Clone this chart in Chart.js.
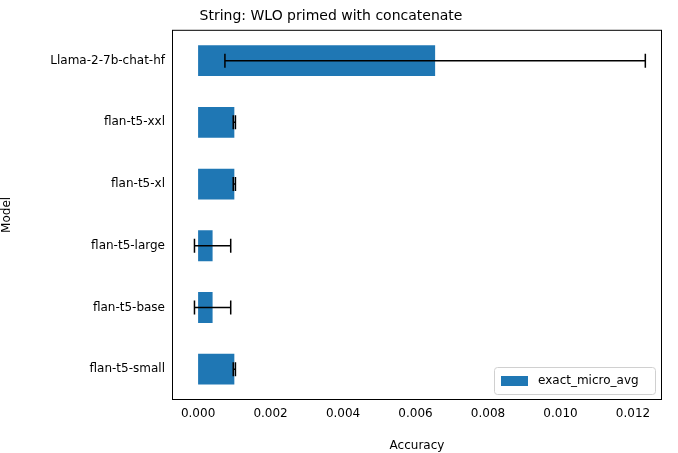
<!DOCTYPE html>
<html>
<head>
<meta charset="UTF-8">
<title>String: WLO primed with concatenate</title>
<style>
  html, body { margin: 0; padding: 0; background: #fff; }
  #wrap { width: 678px; height: 453px; }
</style>
<script src="https://cdn.jsdelivr.net/npm/chart.js@4"></script>
</head>
<body>
<div id="wrap"><canvas id="chart" width="678" height="453"></canvas></div>
<script>
  // data
  var models = ['Llama-2-7b-chat-hf', 'flan-t5-xxl', 'flan-t5-xl', 'flan-t5-large', 'flan-t5-base', 'flan-t5-small'];
  var accuracy = [0.00654, 0.001, 0.001, 0.0004, 0.0004, 0.001];
  var errors = [0.0058, 0.00003, 0.00003, 0.0005, 0.0005, 0.00003];
  var xTicks = [0, 0.002, 0.004, 0.006, 0.008, 0.010, 0.012];

  var font = "'DejaVu Sans', sans-serif";
  var blue = '#1f77b4';

  // draws error bars, frame and legend
  var extras = {
    id: 'extras',
    afterDatasetsDraw: function(chart) {
      var ctx = chart.ctx, x = chart.scales.x, y = chart.scales.y, a = chart.chartArea;
      ctx.save();
      ctx.strokeStyle = '#000';
      ctx.lineWidth = 1.5;
      for (var i = 0; i < models.length; i++) {
        var py = y.getPixelForValue(i);
        var x1 = x.getPixelForValue(accuracy[i] - errors[i]);
        var x2 = x.getPixelForValue(accuracy[i] + errors[i]);
        ctx.beginPath();
        ctx.moveTo(x1, py); ctx.lineTo(x2, py);
        ctx.moveTo(x1, py - 7); ctx.lineTo(x1, py + 7);
        ctx.moveTo(x2, py - 7); ctx.lineTo(x2, py + 7);
        ctx.stroke();
      }
      ctx.lineWidth = 1;
      ctx.strokeRect(a.left + 0.5, a.top + 0.5, a.right - a.left - 1, a.bottom - a.top - 1);

      // legend box
      var lx = 494, ly = 367, lw = 161, lh = 27;
      ctx.fillStyle = 'rgba(255,255,255,0.8)';
      ctx.strokeStyle = '#d0d0d0';
      ctx.beginPath();
      ctx.roundRect(lx + 0.5, ly + 0.5, lw, lh, 3);
      ctx.fill(); ctx.stroke();
      ctx.fillStyle = blue;
      ctx.fillRect(lx + 7, ly + 9, 27, 10);
      ctx.fillStyle = '#000';
      ctx.font = '12px ' + font;
      ctx.textBaseline = 'middle';
      ctx.fillText('exact_micro_avg', lx + 44, ly + 14);
      ctx.restore();
    }
  };

  new Chart(document.getElementById('chart'), {
    type: 'bar',
    data: {
      labels: models,
      datasets: [{
        label: 'exact_micro_avg',
        data: accuracy,
        backgroundColor: blue,
        categoryPercentage: 1,
        barPercentage: 0.5
      }]
    },
    options: {
      indexAxis: 'y',
      responsive: false,
      animation: false,
      layout: { padding: { left: 0, right: 16, top: 0, bottom: 0 } },
      plugins: {
        legend: { display: false },
        tooltip: { enabled: false },
        title: {
          display: true,
          text: 'String: WLO primed with concatenate',
          color: '#000',
          font: { family: font, size: 14, weight: 'normal' },
          padding: { top: 8, bottom: 5 }
        }
      },
      scales: {
        x: {
          min: -0.00072,
          max: 0.0128,
          afterBuildTicks: function(s) { s.ticks = xTicks.map(function(v) { return { value: v }; }); },
          afterFit: function(s) { s.height = 53; },
          grid: { display: false, drawTicks: true, tickLength: 4, tickColor: '#000' },
          border: { display: false },
          ticks: {
            color: '#000',
            font: { family: font, size: 12 },
            padding: 3,
            callback: function(v) { return Number(v).toFixed(3); }
          },
          title: { display: true, text: 'Accuracy', color: '#000', font: { family: font, size: 12 }, padding: 0 }
        },
        y: {
          afterFit: function(s) { s.width = 172; },
          grid: { display: false, drawTicks: true, tickLength: 4, tickColor: '#000' },
          border: { display: false },
          ticks: { color: '#000', font: { family: font, size: 12 }, padding: 3 },
          title: { display: true, text: 'Model', color: '#000', font: { family: font, size: 12 }, padding: 0 }
        }
      }
    },
    plugins: [extras]
  });
</script>
</body>
</html>
